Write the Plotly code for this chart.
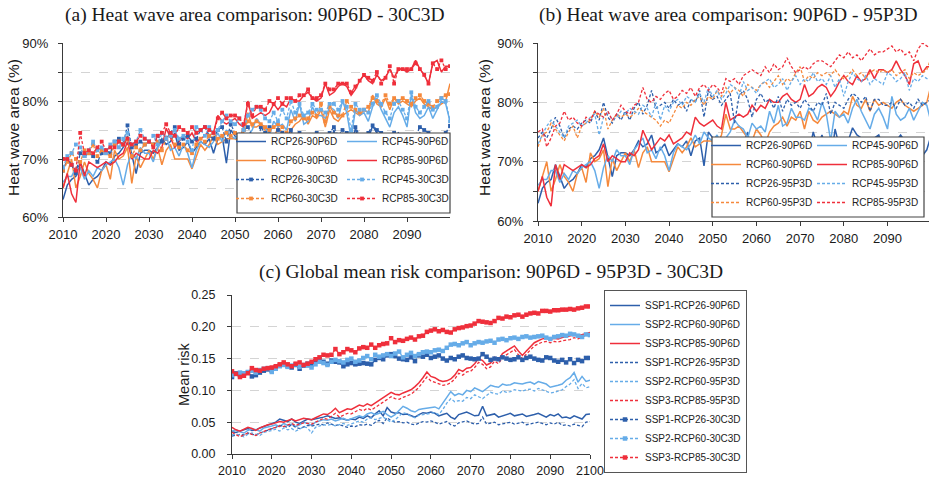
import plotly.graph_objects as go

years = list(range(2010, 2101))

# ---------------- Panel (a)/(b): heat wave area (%) ----------------
rcp26_90p6d = [63.0, 65.5, 66.5, 67.0, 69.5, 67.5, 65.5, 66.5, 67.0, 68.0,
               69.5, 69.0, 70.5, 71.0, 72.0, 74.0, 70.5, 67.5, 71.0, 71.5,
               71.5, 71.0, 72.0, 73.5, 72.5, 73.0, 74.5, 71.5, 72.0, 73.0,
               71.0, 72.0, 73.0, 72.5, 73.5, 71.0, 73.5, 74.0, 69.3, 75.0,
               74.0, 72.5, 73.5, 74.0, 73.0, 69.3, 74.0, 73.0, 75.0, 70.5,
               74.0, 73.5, 72.5, 74.0, 72.0, 73.0, 71.5, 73.5, 71.5, 73.0,
               71.5, 73.0, 71.5, 75.0, 72.5, 74.5, 72.0, 70.0, 75.5, 72.5,
               71.0, 73.5, 75.7, 74.5, 74.0, 73.0, 70.8, 74.0, 74.5, 72.5,
               72.5, 71.5, 73.5, 74.5, 73.5, 72.5, 72.0, 71.5, 71.0, 72.0,
               74.5]
rcp45_90p6d = [66.0, 67.0, 67.0, 68.5, 68.5, 66.5, 68.0, 67.0, 68.5, 68.0,
               69.0, 69.5, 70.0, 68.5, 65.5, 69.0, 71.0, 70.0, 72.0, 71.0,
               71.0, 69.5, 72.0, 73.0, 74.0, 71.5, 72.0, 70.5, 72.5, 71.0,
               68.5, 71.5, 73.0, 72.5, 72.0, 73.0, 74.5, 73.0, 75.0, 74.0,
               73.5, 74.5, 72.7, 74.0, 75.0, 77.0, 76.0, 75.5, 74.0, 76.5,
               75.5, 76.0, 75.0, 78.5, 76.5, 79.5, 76.0, 76.5, 79.0, 77.5,
               77.5, 77.0, 79.0, 78.5, 77.0, 80.0, 78.0, 73.5, 78.5, 77.5,
               78.0, 76.5, 79.0, 80.5, 78.5, 77.0, 75.5, 78.0, 79.0, 77.5,
               75.5, 81.0, 78.0, 77.0, 77.5, 79.0, 77.0, 78.5, 80.0, 79.5,
               76.5]
rcp60_90p6d = [65.0, 67.5, 70.0, 65.0, 67.0, 69.5, 67.5, 66.5, 65.0, 68.0,
               69.0, 66.5, 71.5, 70.0, 70.5, 72.0, 65.8, 70.5, 68.5, 70.0,
               71.5, 70.0, 72.0, 69.0, 71.5, 72.5, 70.0, 70.0, 70.0, 70.0,
               68.3, 70.5, 72.5, 71.5, 72.5, 74.0, 72.5, 73.0, 73.5, 73.5,
               73.5, 73.0, 74.5, 78.0, 75.5, 75.5, 76.0, 75.0, 74.0, 73.5,
               75.5, 74.5, 73.0, 75.0, 76.0, 76.5, 77.5, 76.0, 77.5, 77.0,
               78.5, 75.5, 78.5, 77.0, 76.5, 77.5, 78.0, 78.5, 78.0, 77.5,
               78.5, 78.0, 81.0, 79.5, 79.0, 80.5, 78.5, 80.5, 79.5, 80.0,
               79.5, 79.0, 80.0, 80.5, 79.5, 79.0, 78.5, 79.0, 79.5, 80.0,
               83.0]
rcp85_90p6d = [65.0, 67.5, 64.0, 62.5, 69.5, 67.0, 69.5, 69.0, 68.5, 69.0,
               69.5, 69.0, 69.5, 70.5, 71.0, 73.0, 70.0, 71.0, 70.5, 70.0,
               70.0, 71.5, 71.0, 72.0, 75.3, 73.5, 72.0, 73.0, 74.0, 73.5,
               74.5, 73.0, 73.5, 74.0, 75.0, 74.5, 77.5, 76.5, 76.0, 76.5,
               77.0, 76.0, 75.5, 80.0, 77.0, 77.5, 78.0, 77.5, 78.0, 79.5,
               78.5, 79.5, 79.0, 80.5, 80.0, 80.0, 81.0, 81.5, 80.5, 80.0,
               80.5, 83.0, 81.0, 81.5, 82.5, 83.0, 82.5, 81.0, 82.0, 83.5,
               84.5, 83.5, 83.0, 84.5, 83.5, 84.0, 85.5, 84.0, 85.5, 85.5,
               85.0, 85.5, 87.0, 85.5, 84.5, 83.0, 86.5, 87.0, 85.0, 86.0,
               86.0]

rcp26_30c3d = [68.0, 70.0, 69.0, 67.5, 71.0, 70.5, 71.0, 70.5, 69.5, 71.0,
               71.5, 71.0, 73.0, 73.5, 72.5, 75.8, 72.0, 72.5, 73.0, 72.5,
               73.0, 72.5, 74.0, 73.0, 73.5, 74.5, 75.5, 72.5, 73.5, 74.0,
               73.0, 73.5, 75.0, 75.5, 74.0, 73.5, 75.0, 75.5, 73.0, 76.0,
               74.5, 74.0, 75.0, 75.5, 74.0, 71.0, 75.5, 74.5, 75.5, 72.5,
               75.0, 74.5, 73.5, 75.0, 73.0, 74.5, 70.5, 74.0, 73.0, 74.5,
               74.0, 74.0, 74.5, 75.5, 74.0, 75.0, 74.5, 72.0, 75.5, 74.0,
               72.5, 74.5, 75.8, 75.0, 74.5, 74.0, 73.0, 74.5, 74.0, 74.0,
               74.0, 72.0, 74.0, 75.5, 75.0, 74.5, 73.5, 74.0, 72.0, 74.5,
               75.7]
rcp45_30c3d = [68.5, 70.5, 71.0, 72.5, 72.0, 70.5, 71.5, 73.0, 71.5, 72.0,
               71.0, 72.5, 73.0, 72.0, 73.5, 74.5, 72.5, 73.0, 75.0, 73.5,
               73.0, 74.0, 72.5, 74.5, 73.5, 74.0, 75.0, 73.5, 74.0, 73.0,
               71.5, 75.5, 75.0, 74.0, 75.5, 74.5, 75.0, 76.5, 77.5, 76.5,
               76.0, 77.0, 75.0, 77.5, 78.5, 79.0, 78.5, 77.0, 76.5, 78.0,
               76.5, 78.5, 77.0, 80.0, 78.0, 79.5, 77.5, 78.0, 79.5, 78.5,
               78.5, 78.0, 79.5, 79.5, 78.5, 80.0, 79.0, 75.0, 79.5, 78.5,
               78.5, 78.0, 79.5, 81.0, 79.5, 78.0, 77.0, 79.5, 80.0, 78.5,
               77.0, 81.5, 79.0, 78.0, 79.0, 80.0, 78.5, 79.0, 80.5, 80.0,
               76.5]
rcp60_30c3d = [68.0, 69.5, 71.0, 70.0, 69.5, 71.5, 71.0, 72.5, 70.5, 71.5,
               71.0, 70.5, 72.5, 73.0, 72.5, 73.5, 70.5, 72.0, 71.5, 72.5,
               73.0, 72.5, 73.0, 71.5, 73.5, 74.0, 72.5, 72.0, 72.5, 71.5,
               71.0, 72.5, 73.5, 73.0, 74.0, 74.5, 73.5, 74.0, 74.5, 74.0,
               74.5, 74.0, 75.0, 76.5, 76.0, 76.5, 76.0, 75.5, 75.0, 75.5,
               76.0, 75.5, 74.5, 76.5, 77.0, 77.5, 77.0, 77.0, 78.0, 77.5,
               79.5, 76.5, 79.0, 78.0, 77.5, 77.5, 80.0, 79.0, 78.5, 78.0,
               78.5, 79.0, 80.5, 80.0, 79.5, 81.0, 79.5, 80.5, 80.0, 80.5,
               80.0, 79.5, 80.5, 81.0, 80.0, 79.5, 79.0, 80.0, 80.5, 81.0,
               81.2]
rcp85_30c3d = [70.0, 70.0, 69.0, 68.0, 74.5, 71.0, 71.5, 71.0, 72.0, 73.0,
               71.5, 72.0, 72.0, 73.0, 72.5, 73.5, 72.5, 73.0, 74.0, 73.5,
               73.0, 72.0, 74.0, 74.5, 76.0, 74.5, 74.0, 75.5, 75.0, 74.5,
               75.5, 74.5, 75.0, 75.5, 75.0, 74.5, 77.0, 78.0, 77.0, 77.5,
               77.5, 77.0, 76.0, 79.5, 77.5, 79.0, 79.0, 78.5, 80.0, 79.5,
               80.5, 79.5, 80.5, 80.5, 80.0, 81.0, 81.0, 82.0, 80.5, 80.5,
               81.0, 83.0, 82.0, 82.0, 83.0, 83.0, 83.0, 81.5, 82.5, 83.5,
               84.5, 84.0, 83.5, 85.0, 83.0, 84.0, 86.0, 83.0, 85.5, 85.5,
               85.5, 85.5, 86.5, 85.5, 84.5, 83.0, 86.5, 85.5, 87.0, 85.5,
               86.0]

rcp26_95p3d = [74.0, 75.0, 74.0, 75.5, 77.5, 76.0, 74.0, 75.5, 76.0, 75.5,
               76.5, 77.0, 76.5, 78.5, 77.0, 80.0, 77.5, 76.5, 78.0, 77.0,
               78.5, 77.0, 79.0, 80.0, 78.0, 79.5, 82.0, 79.0, 79.5, 80.0,
               79.0, 80.5, 79.5, 80.0, 78.5, 80.5, 80.0, 82.0, 77.5, 82.0,
               80.5, 81.0, 79.5, 80.5, 81.5, 76.5, 81.0, 82.0, 80.5, 77.5,
               80.5, 81.5, 80.0, 80.5, 79.0, 81.0, 78.5, 80.5, 79.5, 80.0,
               79.0, 80.5, 79.5, 78.5, 80.0, 79.5, 81.5, 78.0, 80.0, 79.5,
               79.0, 80.5, 81.5, 81.0, 80.0, 81.0, 78.5, 80.5, 80.5, 79.5,
               79.5, 80.0, 79.0, 80.5, 79.5, 80.0, 79.0, 80.5, 79.5, 80.0,
               80.5]
rcp45_95p3d = [73.0, 74.5, 76.0, 77.0, 76.0, 75.0, 74.0, 76.0, 76.5, 77.0,
               76.0, 76.5, 77.5, 78.0, 74.5, 77.5, 78.5, 77.0, 77.5, 78.5,
               78.0, 79.0, 78.5, 78.0, 79.5, 79.0, 77.5, 80.0, 77.0, 79.5,
               78.5, 80.0, 80.5, 79.5, 81.0, 80.5, 80.0, 81.5, 80.0, 82.5,
               81.0, 82.0, 80.5, 81.5, 83.0, 82.5, 81.0, 83.5, 82.0, 82.5,
               81.5, 83.0, 83.5, 84.0, 82.5, 83.0, 84.0, 82.0, 83.5, 84.5,
               83.0, 84.0, 83.5, 85.0, 83.5, 84.0, 83.0, 84.5, 82.5, 84.0,
               81.0, 83.5, 85.0, 84.0, 83.5, 84.5, 83.0, 84.0, 83.5, 83.0,
               85.0, 84.5, 83.5, 84.0, 85.0, 82.0, 84.0, 83.5, 84.5, 84.0,
               83.5]
rcp60_95p3d = [72.5, 74.5, 75.0, 76.5, 75.5, 74.5, 73.5, 75.0, 76.0, 74.0,
               76.0, 76.5, 77.0, 78.5, 77.5, 79.0, 75.5, 77.0, 78.0, 77.5,
               78.0, 77.5, 78.0, 79.0, 78.5, 78.0, 77.5, 77.0, 76.0, 77.0,
               76.5, 78.0, 79.5, 79.0, 80.0, 79.5, 80.5, 81.0, 79.5, 81.0,
               80.5, 82.0, 81.0, 82.5, 81.5, 82.5, 82.0, 81.0, 83.0, 82.5,
               82.0, 83.0, 83.5, 82.5, 83.5, 84.5, 83.0, 84.0, 83.5, 85.0,
               86.0, 83.5, 84.5, 84.0, 85.0, 84.5, 85.0, 84.5, 85.5, 84.5,
               84.0, 84.5, 85.5, 84.5, 85.0, 84.0, 85.0, 85.5, 85.0, 85.5,
               85.0, 85.5, 84.5, 85.0, 85.5, 84.0, 85.0, 84.5, 85.0, 85.5,
               87.5]
rcp85_95p3d = [75.0, 75.5, 72.5, 74.0, 76.0, 76.5, 78.5, 77.0, 77.5, 76.5,
               76.0, 77.5, 77.0, 78.5, 78.0, 77.5, 78.5, 77.0, 78.0, 79.5,
               78.5, 78.0, 79.5, 80.0, 82.5, 80.5, 80.0, 81.0, 80.5, 81.5,
               82.0, 80.5, 81.0, 82.0, 81.5, 82.5, 81.0, 82.5, 83.0, 82.0,
               83.0, 82.5, 81.5, 84.0, 83.5, 84.0, 83.0, 84.5, 85.0, 85.5,
               85.0, 84.5, 86.0, 85.0, 86.5, 85.5, 86.0, 87.5, 86.0, 85.0,
               85.5, 86.0, 85.5, 86.5, 87.0, 87.0, 86.5, 86.0, 87.0, 88.0,
               87.5, 88.5, 87.5, 88.0, 87.0, 88.0, 89.0, 88.0, 88.5, 88.5,
               89.0, 89.5, 88.5, 89.0, 88.0, 88.5, 87.0, 89.0, 90.0, 89.5,
               89.0]

# ---------------- Panel (c): global mean risk ----------------
ssp1_90p6d = [0.035, 0.034, 0.036, 0.038, 0.040, 0.037, 0.038, 0.041, 0.043, 0.045,
              0.047, 0.050, 0.055, 0.053, 0.051, 0.055, 0.050, 0.048, 0.052, 0.055,
              0.054, 0.055, 0.057, 0.058, 0.060, 0.058, 0.056, 0.057, 0.055, 0.053,
              0.055, 0.054, 0.058, 0.056, 0.060, 0.057, 0.063, 0.068, 0.060, 0.073,
              0.066, 0.064, 0.065, 0.062, 0.063, 0.060, 0.058, 0.062, 0.065, 0.064,
              0.066, 0.064, 0.060, 0.062, 0.064, 0.058, 0.055, 0.062, 0.064, 0.066,
              0.063, 0.060, 0.061, 0.075, 0.060, 0.062, 0.063, 0.058, 0.060, 0.062,
              0.064, 0.060, 0.061, 0.063, 0.059, 0.060, 0.062, 0.064, 0.061, 0.058,
              0.062, 0.060, 0.063, 0.057, 0.058, 0.056, 0.060, 0.057, 0.055, 0.062,
              0.063]
ssp2_90p6d = [0.036, 0.038, 0.035, 0.033, 0.037, 0.040, 0.038, 0.036, 0.041, 0.042,
              0.044, 0.046, 0.043, 0.048, 0.045, 0.047, 0.043, 0.046, 0.050, 0.048,
              0.045, 0.050, 0.052, 0.054, 0.053, 0.055, 0.052, 0.054, 0.056, 0.053,
              0.055, 0.057, 0.060, 0.058, 0.063, 0.065, 0.062, 0.064, 0.067, 0.062,
              0.058, 0.062, 0.068, 0.075, 0.072, 0.068, 0.066, 0.070, 0.071, 0.072,
              0.073, 0.074, 0.071, 0.080, 0.090, 0.098, 0.092, 0.095, 0.093, 0.100,
              0.098, 0.104, 0.101, 0.098, 0.103, 0.108, 0.106, 0.105, 0.110, 0.108,
              0.109, 0.112, 0.111, 0.110, 0.112, 0.113, 0.110, 0.114, 0.112, 0.110,
              0.105, 0.106, 0.108, 0.110, 0.116, 0.120, 0.128, 0.113, 0.122, 0.114,
              0.116]
ssp3_90p6d = [0.042, 0.038, 0.036, 0.039, 0.042, 0.040, 0.037, 0.041, 0.044, 0.046,
              0.047, 0.049, 0.051, 0.050, 0.053, 0.055, 0.052, 0.054, 0.056, 0.055,
              0.054, 0.057, 0.060, 0.063, 0.062, 0.066, 0.072, 0.065, 0.068, 0.071,
              0.070, 0.073, 0.077, 0.075, 0.079, 0.076, 0.080, 0.085, 0.088, 0.092,
              0.097, 0.094, 0.093, 0.096, 0.099, 0.101, 0.106, 0.112, 0.120, 0.129,
              0.122, 0.120, 0.116, 0.114, 0.115, 0.118, 0.124, 0.133, 0.130, 0.135,
              0.136, 0.142, 0.150, 0.147, 0.140, 0.143, 0.152, 0.148, 0.158, 0.162,
              0.165, 0.170, 0.162, 0.155, 0.162, 0.168, 0.175, 0.178, 0.181, 0.182,
              0.180, 0.182, 0.181, 0.183, 0.184, 0.185, 0.187, 0.186, 0.188, 0.190,
              0.191]
ssp1_95p3d = [0.028, 0.030, 0.031, 0.030, 0.033, 0.031, 0.030, 0.033, 0.035, 0.037,
              0.039, 0.042, 0.045, 0.044, 0.042, 0.046, 0.042, 0.040, 0.043, 0.045,
              0.044, 0.045, 0.047, 0.046, 0.049, 0.047, 0.045, 0.046, 0.044, 0.042,
              0.044, 0.043, 0.046, 0.045, 0.047, 0.045, 0.050, 0.053, 0.048, 0.057,
              0.052, 0.050, 0.051, 0.049, 0.050, 0.047, 0.046, 0.049, 0.051, 0.050,
              0.052, 0.050, 0.047, 0.049, 0.051, 0.046, 0.044, 0.049, 0.050, 0.052,
              0.049, 0.047, 0.048, 0.058, 0.047, 0.049, 0.050, 0.046, 0.047, 0.049,
              0.050, 0.047, 0.048, 0.050, 0.046, 0.047, 0.049, 0.050, 0.048, 0.046,
              0.049, 0.047, 0.050, 0.045, 0.046, 0.044, 0.047, 0.045, 0.043, 0.050,
              0.051]
ssp2_95p3d = [0.030, 0.032, 0.029, 0.027, 0.031, 0.033, 0.031, 0.029, 0.034, 0.035,
              0.037, 0.039, 0.036, 0.041, 0.038, 0.040, 0.036, 0.039, 0.043, 0.041,
              0.033, 0.042, 0.044, 0.046, 0.045, 0.047, 0.044, 0.046, 0.048, 0.045,
              0.047, 0.049, 0.052, 0.050, 0.055, 0.057, 0.054, 0.056, 0.058, 0.054,
              0.050, 0.054, 0.059, 0.065, 0.063, 0.059, 0.057, 0.061, 0.062, 0.063,
              0.064, 0.065, 0.062, 0.070, 0.080, 0.087, 0.082, 0.084, 0.083, 0.089,
              0.087, 0.093, 0.090, 0.087, 0.092, 0.097, 0.095, 0.094, 0.099, 0.097,
              0.098, 0.101, 0.100, 0.099, 0.101, 0.102, 0.099, 0.103, 0.101, 0.099,
              0.096, 0.097, 0.099, 0.101, 0.106, 0.110, 0.117, 0.103, 0.111, 0.104,
              0.106]
ssp3_95p3d = [0.034, 0.030, 0.027, 0.030, 0.033, 0.031, 0.029, 0.033, 0.036, 0.038,
              0.040, 0.042, 0.044, 0.043, 0.046, 0.048, 0.045, 0.047, 0.049, 0.048,
              0.047, 0.050, 0.053, 0.056, 0.055, 0.059, 0.064, 0.058, 0.061, 0.064,
              0.063, 0.066, 0.070, 0.068, 0.072, 0.069, 0.073, 0.078, 0.081, 0.085,
              0.090, 0.087, 0.086, 0.089, 0.092, 0.094, 0.099, 0.105, 0.113, 0.121,
              0.115, 0.113, 0.110, 0.108, 0.109, 0.112, 0.118, 0.127, 0.124, 0.129,
              0.130, 0.136, 0.144, 0.141, 0.134, 0.137, 0.146, 0.142, 0.152, 0.156,
              0.159, 0.164, 0.156, 0.150, 0.157, 0.163, 0.170, 0.173, 0.176, 0.177,
              0.175, 0.177, 0.176, 0.178, 0.179, 0.180, 0.183, 0.181, 0.184, 0.187,
              0.188]
ssp1_30c3d = [0.121, 0.127, 0.124, 0.126, 0.128, 0.122, 0.124, 0.128, 0.131, 0.133,
              0.131, 0.136, 0.139, 0.141, 0.138, 0.136, 0.140, 0.134, 0.139, 0.142,
              0.140, 0.146, 0.149, 0.145, 0.142, 0.147, 0.145, 0.144, 0.138, 0.141,
              0.143, 0.141, 0.142, 0.143, 0.142, 0.141, 0.148, 0.151, 0.149, 0.155,
              0.157, 0.154, 0.150, 0.149, 0.148, 0.152, 0.146, 0.155, 0.153, 0.156,
              0.151, 0.153, 0.155, 0.150, 0.147, 0.151, 0.149, 0.153, 0.155, 0.151,
              0.150, 0.149, 0.150, 0.157, 0.153, 0.148, 0.150, 0.149, 0.152, 0.150,
              0.148, 0.149, 0.152, 0.148, 0.151, 0.153, 0.150, 0.148, 0.147, 0.152,
              0.151, 0.147, 0.145, 0.148, 0.144, 0.149, 0.143, 0.148, 0.146, 0.151,
              0.151]
ssp2_30c3d = [0.124, 0.126, 0.128, 0.127, 0.129, 0.131, 0.128, 0.132, 0.134, 0.135,
              0.129, 0.134, 0.138, 0.140, 0.137, 0.139, 0.141, 0.137, 0.140, 0.139,
              0.136, 0.141, 0.145, 0.143, 0.140, 0.145, 0.148, 0.146, 0.144, 0.148,
              0.150, 0.145, 0.147, 0.151, 0.154, 0.149, 0.156, 0.153, 0.155, 0.157,
              0.154, 0.158, 0.161, 0.152, 0.156, 0.159, 0.154, 0.157, 0.160, 0.161,
              0.160, 0.163, 0.164, 0.162, 0.167, 0.172, 0.173, 0.171, 0.174, 0.176,
              0.171, 0.174, 0.176, 0.175, 0.177, 0.178, 0.175, 0.180, 0.181, 0.179,
              0.182, 0.183, 0.181, 0.184, 0.185, 0.183, 0.184, 0.185, 0.186, 0.183,
              0.181, 0.184, 0.185, 0.187, 0.186, 0.189, 0.188, 0.186, 0.184, 0.188,
              0.187]
ssp3_30c3d = [0.130, 0.126, 0.121, 0.123, 0.127, 0.135, 0.132, 0.131, 0.134, 0.135,
              0.136, 0.138, 0.141, 0.144, 0.141, 0.138, 0.142, 0.144, 0.140, 0.142,
              0.145, 0.149, 0.152, 0.156, 0.155, 0.156, 0.165, 0.157, 0.160, 0.165,
              0.163, 0.160, 0.166, 0.168, 0.167, 0.172, 0.167, 0.171, 0.173, 0.174,
              0.182, 0.176, 0.179, 0.178, 0.181, 0.183, 0.180, 0.185, 0.186, 0.192,
              0.194, 0.196, 0.193, 0.195, 0.192, 0.191, 0.196, 0.198, 0.199, 0.201,
              0.202, 0.205, 0.209, 0.208, 0.207, 0.206, 0.209, 0.214, 0.213, 0.216,
              0.215, 0.218, 0.219, 0.216, 0.219, 0.221, 0.222, 0.221, 0.225, 0.225,
              0.224, 0.226, 0.226, 0.227, 0.227, 0.228, 0.227, 0.229, 0.230, 0.232,
              0.232]

ab_ticks = [60, 65, 70, 75, 80, 85, 90]
ab_ticktext = ["60%", "", "70%", "", "80%", "", "90%"]
x_ticks_ab = [2010, 2020, 2030, 2040, 2050, 2060, 2070, 2080, 2090]
x_ticks_c = [2010, 2020, 2030, 2040, 2050, 2060, 2070, 2080, 2090, 2100]
c_ticks = [0.0, 0.05, 0.10, 0.15, 0.20, 0.25]

# ---------------- styling ----------------
W, H = 929, 482
def px(x): return x / W
def py(y): return 1 - y / H

DB, LB, OR, RD = "#2d5fab", "#66ace8", "#f5893c", "#ef2f3b"
SANS = "Liberation Sans, Arial, sans-serif"
SERIF = "Liberation Serif, Times New Roman, serif"
DASH = "3px,2px"

fig = go.Figure()

def add(y, name, color, kind, xa, ya, legend, msize=3.8):
    if kind == "solid":
        line = dict(color=color, width=1.5)
        mode = "lines"
    elif kind == "dash":
        line = dict(color=color, width=1.3, dash=DASH)
        mode = "lines"
    else:
        line = dict(color=color, width=1.3, dash=DASH)
        mode = "lines+markers"
    fig.add_trace(go.Scatter(x=years, y=y, name=name, mode=mode, line=line,
                             marker=dict(symbol="square", size=msize, color=color, line=dict(width=0)),
                             xaxis=xa, yaxis=ya, legend=legend, hoverinfo="skip"))

# Panel (a)
add(rcp26_90p6d, "RCP26-90P6D", DB, "solid", "x", "y", "legend")
add(rcp60_90p6d, "RCP60-90P6D", OR, "solid", "x", "y", "legend")
add(rcp45_90p6d, "RCP45-90P6D", LB, "solid", "x", "y", "legend2")
add(rcp85_90p6d, "RCP85-90P6D", RD, "solid", "x", "y", "legend2")
add(rcp26_30c3d, "RCP26-30C3D", DB, "marker", "x", "y", "legend")
add(rcp60_30c3d, "RCP60-30C3D", OR, "marker", "x", "y", "legend")
add(rcp45_30c3d, "RCP45-30C3D", LB, "marker", "x", "y", "legend2")
add(rcp85_30c3d, "RCP85-30C3D", RD, "marker", "x", "y", "legend2")

# Panel (b)
add(rcp26_90p6d, "RCP26-90P6D", DB, "solid", "x2", "y2", "legend3")
add(rcp60_90p6d, "RCP60-90P6D", OR, "solid", "x2", "y2", "legend3")
add(rcp45_90p6d, "RCP45-90P6D", LB, "solid", "x2", "y2", "legend4")
add(rcp85_90p6d, "RCP85-90P6D", RD, "solid", "x2", "y2", "legend4")
add(rcp26_95p3d, "RCP26-95P3D", DB, "dash", "x2", "y2", "legend3")
add(rcp60_95p3d, "RCP60-95P3D", OR, "dash", "x2", "y2", "legend3")
add(rcp45_95p3d, "RCP45-95P3D", LB, "dash", "x2", "y2", "legend4")
add(rcp85_95p3d, "RCP85-95P3D", RD, "dash", "x2", "y2", "legend4")

# Panel (c)
add(ssp1_90p6d, "SSP1-RCP26-90P6D", DB, "solid", "x3", "y3", "legend5")
add(ssp2_90p6d, "SSP2-RCP60-90P6D", LB, "solid", "x3", "y3", "legend5")
add(ssp3_90p6d, "SSP3-RCP85-90P6D", RD, "solid", "x3", "y3", "legend5")
add(ssp1_95p3d, "SSP1-RCP26-95P3D", DB, "dash", "x3", "y3", "legend5")
add(ssp2_95p3d, "SSP2-RCP60-95P3D", LB, "dash", "x3", "y3", "legend5")
add(ssp3_95p3d, "SSP3-RCP85-95P3D", RD, "dash", "x3", "y3", "legend5")
add(ssp1_30c3d, "SSP1-RCP26-30C3D", DB, "marker", "x3", "y3", "legend5", 4.5)
add(ssp2_30c3d, "SSP2-RCP60-30C3D", LB, "marker", "x3", "y3", "legend5", 4.5)
add(ssp3_30c3d, "SSP3-RCP85-30C3D", RD, "marker", "x3", "y3", "legend5", 4.5)

AXC = "#3a3a3a"
GRID = "#d4d4d4"
TXT = "#1a1a1a"
def xax(dom, anchor, rng, ticks, size):
    return dict(domain=dom, anchor=anchor, range=rng, tickvals=ticks, showgrid=False,
                showline=True, linecolor=AXC, linewidth=1, ticks="outside", ticklen=4,
                tickcolor=AXC, tickfont=dict(family=SANS, size=size, color=TXT),
                zeroline=False, automargin=False, ticklabelstandoff=1)
def yax(dom, anchor, rng, ticks, text, size, standoff, fmt=None):
    d = dict(domain=dom, anchor=anchor, range=rng, tickvals=ticks, showgrid=True,
             gridcolor=GRID, griddash="dash", gridwidth=1,
             showline=True, linecolor=AXC, linewidth=1, ticks="outside", ticklen=4,
             tickcolor=AXC, tickfont=dict(family=SANS, size=size, color=TXT),
             zeroline=False, automargin=False, ticklabelstandoff=standoff)
    if text is not None:
        d["ticktext"] = text
    if fmt:
        d["tickformat"] = fmt
    return d

leg_common = dict(font=dict(family=SANS, size=10, color="#222"), bgcolor="rgba(0,0,0,0)",
                  borderwidth=0, orientation="v", tracegroupgap=0, itemwidth=30,
                  xanchor="left", yanchor="bottom")

fig.update_layout(
    width=W, height=H, margin=dict(l=0, r=0, t=0, b=0),
    paper_bgcolor="white", plot_bgcolor="white",
    xaxis=xax([px(63), px(450)], "y", [2010, 2100], x_ticks_ab, 13),
    yaxis=yax([py(217), py(43)], "x", [60, 90], ab_ticks, ab_ticktext, 13, 7),
    xaxis2=xax([px(538), 1.0], "y2", [2010, 2099.5], x_ticks_ab, 13),
    yaxis2=yax([py(221), py(43)], "x2", [60, 90], ab_ticks, ab_ticktext, 13, 7),
    xaxis3=xax([px(232), px(590)], "y3", [2010, 2100], x_ticks_c, 12.5),
    yaxis3=yax([py(454), py(295)], "x3", [0, 0.25], c_ticks, None, 12.5, 9, ".2f"),
    legend=dict(leg_common, x=px(231), y=py(213)),
    legend2=dict(leg_common, x=px(342), y=py(213)),
    legend3=dict(leg_common, x=px(706), y=py(217)),
    legend4=dict(leg_common, x=px(812), y=py(217)),
    legend5=dict(font=dict(family=SANS, size=10, color="#222"), bgcolor="white",
                 bordercolor="#555", borderwidth=1, orientation="v", tracegroupgap=0,
                 itemwidth=30, xanchor="left", yanchor="top", x=px(604), y=py(290)),
    showlegend=True,
    shapes=[
        dict(type="rect", xref="paper", yref="paper", x0=px(237), x1=px(450),
             y0=py(213), y1=py(133), line=dict(color="#444", width=1.2),
             fillcolor="white", layer="above"),
        dict(type="rect", xref="paper", yref="paper", x0=px(712), x1=px(924),
             y0=py(217), y1=py(137), line=dict(color="#444", width=1.2),
             fillcolor="white", layer="above"),
    ],
    annotations=[
        dict(text="(a) Heat wave area comparison: 90P6D - 30C3D", x=px(255), y=py(15),
             xref="paper", yref="paper", showarrow=False, xanchor="center", yanchor="middle",
             font=dict(family=SERIF, size=19.5, color=TXT)),
        dict(text="(b) Heat wave area comparison: 90P6D - 95P3D", x=px(728), y=py(15),
             xref="paper", yref="paper", showarrow=False, xanchor="center", yanchor="middle",
             font=dict(family=SERIF, size=19.5, color=TXT)),
        dict(text="(c) Global mean risk comparison: 90P6D - 95P3D - 30C3D", x=px(491), y=py(272),
             xref="paper", yref="paper", showarrow=False, xanchor="center", yanchor="middle",
             font=dict(family=SERIF, size=19.5, color=TXT)),
        dict(text="Heat wave area (%)", x=px(14), y=py(128), textangle=-90,
             xref="paper", yref="paper", showarrow=False, xanchor="center", yanchor="middle",
             font=dict(family=SANS, size=15.5, color=TXT)),
        dict(text="Heat wave area (%)", x=px(485), y=py(128), textangle=-90,
             xref="paper", yref="paper", showarrow=False, xanchor="center", yanchor="middle",
             font=dict(family=SANS, size=15.5, color=TXT)),
        dict(text="Mean risk", x=px(184), y=py(374), textangle=-90,
             xref="paper", yref="paper", showarrow=False, xanchor="center", yanchor="middle",
             font=dict(family=SANS, size=14.5, color=TXT)),
    ],
)

fig.write_html("out.html", config={"displayModeBar": False},
               post_script="document.body.style.margin='0px';")
